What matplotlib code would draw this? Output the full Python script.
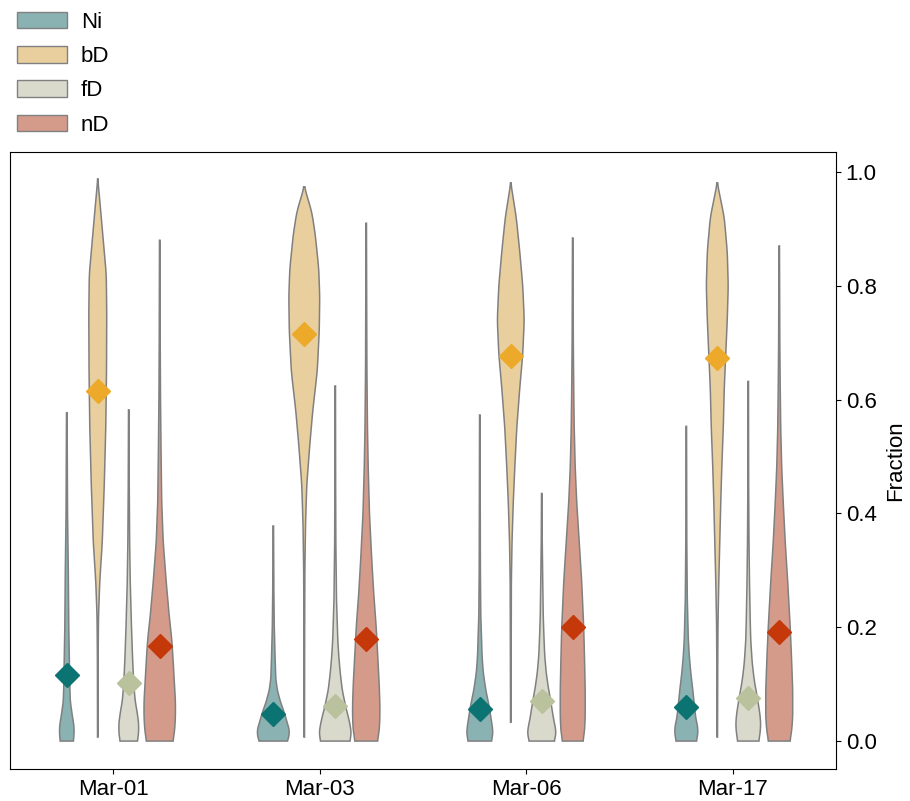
import numpy as np
import matplotlib
matplotlib.use("Agg")
import matplotlib.pyplot as plt
from matplotlib.patches import Patch

plt.rcParams['font.family'] = ['Liberation Sans', 'DejaVu Sans']

# categorias y series
fechas = ["Mar-01", "Mar-03", "Mar-06", "Mar-17"]
grupos = ["Ni", "bD", "fD", "nD"]

# medias (rombos)
media_Ni = [0.116, 0.047, 0.056, 0.060]
media_bD = [0.615, 0.716, 0.677, 0.673]
media_fD = [0.102, 0.062, 0.070, 0.076]
media_nD = [0.167, 0.179, 0.200, 0.191]

# perfiles de violin: (valor, ancho total en px)
perfil_Ni = [
    [(0, 13), (0.01, 14.5), (0.025, 14.7), (0.045, 11), (0.07, 7), (0.1, 6), (0.15, 5),
     (0.2, 4), (0.3, 3), (0.4, 1.5), (0.5, 1), (0.577, 0.6)],
    [(0, 28), (0.008, 31.5), (0.02, 32), (0.035, 27), (0.05, 22), (0.07, 14), (0.09, 8),
     (0.11, 5), (0.15, 3.5), (0.2, 2), (0.26, 1.2), (0.378, 0.5)],
    [(0, 23), (0.01, 26), (0.02, 26), (0.04, 22.5), (0.06, 19), (0.09, 12), (0.12, 7),
     (0.15, 4.5), (0.18, 3.5), (0.22, 2), (0.3, 1.2), (0.573, 0.5)],
    [(0, 20), (0.01, 23), (0.025, 23), (0.04, 19), (0.06, 16.5), (0.09, 13), (0.12, 9),
     (0.15, 6), (0.18, 4), (0.25, 2), (0.35, 1), (0.553, 0.5)],
]
perfil_bD = [
    [(0.007, 0.5), (0.15, 0.8), (0.22, 1.5), (0.28, 4), (0.35, 9), (0.45, 13), (0.55, 16),
     (0.65, 17.5), (0.75, 18), (0.82, 17), (0.88, 11), (0.94, 5), (0.988, 0)],
    [(0.007, 0.5), (0.2, 0.8), (0.3, 1.2), (0.38, 2.5), (0.45, 5), (0.52, 11), (0.58, 17),
     (0.65, 26), (0.72, 30), (0.78, 31), (0.83, 29), (0.89, 22), (0.93, 15), (0.974, 0)],
    [(0.033, 0.5), (0.15, 0.8), (0.28, 1.2), (0.35, 2.5), (0.42, 5), (0.48, 8), (0.55, 12),
     (0.62, 18), (0.68, 24), (0.74, 27), (0.8, 24), (0.86, 18), (0.92, 11), (0.981, 0)],
    [(0.007, 0.5), (0.15, 1), (0.21, 1.5), (0.28, 3), (0.35, 5), (0.42, 7), (0.48, 9),
     (0.55, 12), (0.62, 14), (0.68, 17), (0.74, 20), (0.8, 22), (0.86, 20), (0.92, 14),
     (0.981, 0)],
]
perfil_fD = [
    [(0, 17), (0.01, 19.5), (0.03, 20), (0.05, 17), (0.07, 13), (0.1, 10), (0.15, 7.5),
     (0.2, 5.5), (0.28, 3), (0.35, 1.8), (0.45, 1), (0.582, 0.5)],
    [(0, 29), (0.01, 32), (0.02, 31.5), (0.04, 27), (0.06, 21), (0.09, 14), (0.12, 10),
     (0.15, 7), (0.18, 5), (0.25, 2.5), (0.35, 1.2), (0.45, 0.8), (0.624, 0.5)],
    [(0, 25), (0.01, 28), (0.02, 28), (0.04, 23.5), (0.07, 18), (0.095, 13), (0.12, 9),
     (0.15, 6), (0.18, 4.5), (0.22, 3), (0.28, 2), (0.35, 1), (0.435, 0.5)],
    [(0, 21), (0.015, 24), (0.032, 25), (0.05, 23), (0.077, 18), (0.107, 12), (0.137, 8),
     (0.177, 5), (0.21, 4), (0.28, 2.5), (0.35, 1.5), (0.45, 0.8), (0.632, 0.5)],
]
perfil_nD = [
    [(0, 26), (0.01, 29), (0.04, 31.5), (0.07, 31.5), (0.1, 29.5), (0.14, 27), (0.18, 24),
     (0.22, 19), (0.28, 13), (0.35, 7), (0.42, 4), (0.5, 2.8), (0.6, 1.6), (0.7, 1), (0.88, 0.5)],
    [(0, 22), (0.01, 25), (0.03, 27), (0.06, 27.5), (0.1, 26), (0.15, 23), (0.2, 20),
     (0.26, 15), (0.32, 11), (0.4, 6.5), (0.48, 4), (0.55, 2.5), (0.65, 1.4), (0.75, 1), (0.91, 0.5)],
    [(0, 20), (0.01, 23), (0.04, 25), (0.09, 25), (0.15, 23.5), (0.2, 22), (0.28, 18),
     (0.35, 13), (0.42, 8), (0.48, 5), (0.55, 3), (0.62, 2), (0.7, 1.2), (0.884, 0.5)],
    [(0, 21), (0.01, 24), (0.04, 27), (0.09, 27), (0.15, 24.5), (0.2, 22), (0.28, 17),
     (0.35, 12), (0.42, 8), (0.48, 5), (0.55, 3), (0.62, 2), (0.7, 1.2), (0.87, 0.5)],
]

perfiles = [perfil_Ni, perfil_bD, perfil_fD, perfil_nD]
medias = [media_Ni, media_bD, media_fD, media_nD]

color_violin = ["#8AB2B2", "#EACF9E", "#D9DACB", "#D59B8A"]
color_media = ["#0B7371", "#ECA92A", "#B9C29C", "#C4380A"]
desplaz = [-0.225, -0.075, 0.075, 0.225]
px = 1 / 207.0  # ancho de un pixel en unidades de x


def dibujar_violin(ax, x0, perfil, color):
    ys, ws = zip(*perfil)
    yy = np.linspace(ys[0], ys[-1], 300)
    ww = np.interp(yy, ys, ws)
    # suavizado ligero del contorno
    k = np.ones(9) / 9
    ww = np.convolve(np.pad(ww, 4, mode="edge"), k, mode="valid")
    half = ww * px / 2
    xs = np.concatenate([x0 - half, (x0 + half)[::-1]])
    yv = np.concatenate([yy, yy[::-1]])
    ax.fill(xs, yv, facecolor=color, edgecolor="#808080", linewidth=1.1, zorder=2)


fig = plt.figure(figsize=(9.1, 8.01), dpi=100)
ax = fig.add_axes([0.011, 0.04, 0.9077, 0.7702])

for g in range(4):
    for i in range(len(fechas)):
        dibujar_violin(ax, i + desplaz[g], perfiles[g][i], color_violin[g])
    ax.plot(np.arange(len(fechas)) + desplaz[g], medias[g], linestyle="none", marker="D",
            markersize=12, color=color_media[g], zorder=3)

ax.set_xlim(-0.5, 3.5)
ax.set_ylim(-0.049, 1.035)
ax.set_xticks(range(len(fechas)))
ax.set_xticklabels(fechas, fontsize=16)
ax.yaxis.tick_right()
ax.yaxis.set_label_position("right")
ax.set_yticks([0.0, 0.2, 0.4, 0.6, 0.8, 1.0])
ax.set_yticklabels(["0.0", "0.2", "0.4", "0.6", "0.8", "1.0"], fontsize=16)
ax.set_ylabel("Fraction", fontsize=16, labelpad=6)

handles = [Patch(facecolor=color_violin[g], edgecolor="#808080", label=grupos[g]) for g in range(4)]
fig.legend(handles=handles, loc="upper left", bbox_to_anchor=(0.004, 1.002), frameon=False,
           fontsize=16, handlelength=2.25, handleheight=0.77, handletextpad=0.62,
           labelspacing=0.6, borderaxespad=0.2)

fig.savefig("out.png", dpi=100)
